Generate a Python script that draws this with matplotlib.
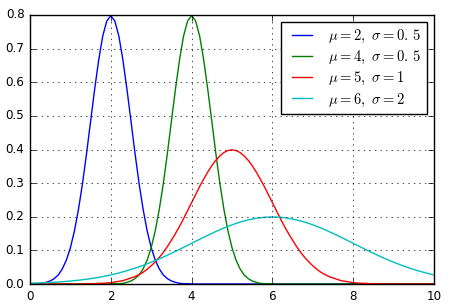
"""
Normal probability density curves for four (mu, sigma) pairs,
drawn in the classic matplotlib look.
"""

import numpy as np
from matplotlib import pyplot

# Sample positions along x (0 to 10).
x_fine = np.linspace(0.0, 10.0, 101)   # step 0.1
x_coarse = np.linspace(0.0, 10.0, 51)  # step 0.2

# mu=2, sigma=0.5 on x_fine
pdf_mu2 = ([0.000, 0.001, 0.001, 0.002, 0.005, 0.009, 0.016, 0.027, 0.045, 0.071,
            0.108, 0.158, 0.222, 0.299, 0.388, 0.484, 0.579, 0.666, 0.737, 0.782,
            0.798, 0.782, 0.737, 0.666, 0.579, 0.484, 0.388, 0.299, 0.222, 0.158,
            0.108, 0.071, 0.045, 0.027, 0.016, 0.009, 0.005, 0.002, 0.001, 0.001,
            0.000] + [0.0] * 60)

# mu=4, sigma=0.5 on x_fine
pdf_mu4 = ([0.0] * 20 +
           [0.000, 0.001, 0.001, 0.002, 0.005, 0.009, 0.016, 0.027, 0.045, 0.071,
            0.108, 0.158, 0.222, 0.299, 0.388, 0.484, 0.579, 0.666, 0.737, 0.782,
            0.798, 0.782, 0.737, 0.666, 0.579, 0.484, 0.388, 0.299, 0.222, 0.158,
            0.108, 0.071, 0.045, 0.027, 0.016, 0.009, 0.005, 0.002, 0.001, 0.001,
            0.000] + [0.0] * 40)

# mu=5, sigma=1 on x_fine
pdf_mu5 = ([0.0] * 14 +
           [0.001, 0.001, 0.001, 0.002, 0.002, 0.003, 0.004, 0.006, 0.008, 0.010,
            0.014, 0.018, 0.022, 0.028, 0.035, 0.044, 0.054, 0.066, 0.079, 0.094,
            0.111, 0.130, 0.150, 0.171, 0.194, 0.218, 0.242, 0.266, 0.290, 0.312,
            0.333, 0.352, 0.368, 0.381, 0.391, 0.397, 0.399, 0.397, 0.391, 0.381,
            0.368, 0.352, 0.333, 0.312, 0.290, 0.266, 0.242, 0.218, 0.194, 0.171,
            0.150, 0.130, 0.111, 0.094, 0.079, 0.066, 0.054, 0.044, 0.035, 0.028,
            0.022, 0.018, 0.014, 0.010, 0.008, 0.006, 0.004, 0.003, 0.002, 0.002,
            0.001, 0.001, 0.001] + [0.0] * 14)

# mu=6, sigma=2 on x_coarse
pdf_mu6 = [0.0022, 0.0030, 0.0040, 0.0052, 0.0068, 0.0088, 0.0112, 0.0142, 0.0177, 0.0220,
           0.0270, 0.0328, 0.0395, 0.0470, 0.0555, 0.0648, 0.0749, 0.0857, 0.0971, 0.1089,
           0.1210, 0.1330, 0.1448, 0.1561, 0.1666, 0.1760, 0.1841, 0.1907, 0.1955, 0.1985,
           0.1995, 0.1985, 0.1955, 0.1907, 0.1841, 0.1760, 0.1666, 0.1561, 0.1448, 0.1330,
           0.1210, 0.1089, 0.0971, 0.0857, 0.0749, 0.0648, 0.0555, 0.0470, 0.0395, 0.0328,
           0.0270]

labels = [r'$\mu=2,\ \sigma=0.\,5$', r'$\mu=4,\ \sigma=0.\,5$',
          r'$\mu=5,\ \sigma=1$', r'$\mu=6,\ \sigma=2$']

pyplot.style.use('classic')
pyplot.rc('font', size=8.6)

fig = pyplot.figure(figsize=(4.5, 3.06))
ax = fig.add_axes([30 / 450, 1 - 284 / 306, 404 / 450, 269 / 306])
ax.plot(x_fine, pdf_mu2, color='b', label=labels[0])
ax.plot(x_fine, pdf_mu4, color='g', label=labels[1])
ax.plot(x_fine, pdf_mu5, color='r', label=labels[2])
ax.plot(x_coarse, pdf_mu6, color='c', label=labels[3])
ax.set_xlim(0, 10)
ax.set_ylim(0, 0.8)
ax.grid(True)
ax.legend(loc='upper right', fontsize=10.5, labelspacing=0.27)

fig.savefig('out.png', dpi=100)
